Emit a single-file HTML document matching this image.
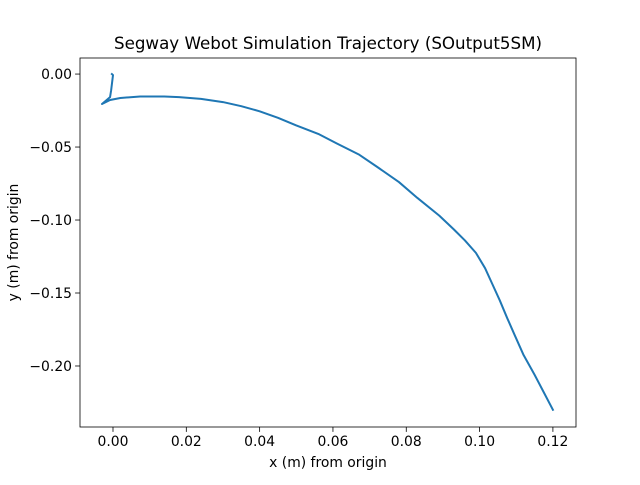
<!DOCTYPE html>
<html><head><meta charset="utf-8"><style>
body{margin:0;background:#fff}
svg text{font-family:"DejaVu Sans","Liberation Sans",sans-serif;fill:#000}
</style></head><body>
<svg id="chart" width="640" height="480" xmlns="http://www.w3.org/2000/svg"></svg>
<script>
const xs=[-0.0003,0.0,-0.0005,-0.0008,-0.003,-0.0008,0.002,0.0074,0.014,0.018,0.024,0.030,0.035,0.040,0.045,0.050,0.056,0.061,0.067,0.072,0.078,0.083,0.089,0.093,0.096,0.099,0.1015,0.1035,0.1055,0.1075,0.1096,0.112,0.115,0.1175,0.12];
const ys=[0,-0.0007,-0.011,-0.0158,-0.0205,-0.0178,-0.0164,-0.0154,-0.0154,-0.0158,-0.017,-0.0192,-0.022,-0.0255,-0.030,-0.0352,-0.041,-0.0475,-0.055,-0.0635,-0.074,-0.0848,-0.097,-0.1065,-0.114,-0.1225,-0.133,-0.144,-0.155,-0.167,-0.179,-0.1925,-0.206,-0.218,-0.230];
const xTicks=[0.00,0.02,0.04,0.06,0.08,0.10,0.12];
const yTicks=[0.00,-0.05,-0.10,-0.15,-0.20];
const L=80,R=576,T=58,B=427;
const xMin=-0.009,xMax=0.1263,yMin=-0.2418,yMax=0.011;
const sx=v=>L+(v-xMin)/(xMax-xMin)*(R-L);
const sy=v=>B-(v-yMin)/(yMax-yMin)*(B-T);
const svg=document.getElementById('chart');
const NS='http://www.w3.org/2000/svg';
function mk(t,a,txt){const e=document.createElementNS(NS,t);for(const k in a)e.setAttribute(k,a[k]);if(txt!=null)e.textContent=txt;svg.appendChild(e);return e;}
let e=mk('rect',{x:L,y:T,width:R-L,height:B-T,fill:'none',stroke:'#000','stroke-width':0.8});


xTicks.forEach(v=>{const x=sx(v);
 let t=mk('line',{x1:x,x2:x,y1:B,y2:B+4.9,stroke:'#000','stroke-width':0.8});
 
 
 let l=mk('text',{x:x,y:B+19,'text-anchor':'middle','font-size':13.9},v.toFixed(2));
 
 });
yTicks.forEach(v=>{const y=sy(v);
 let t=mk('line',{x1:L-4.9,x2:L,y1:y,y2:y,stroke:'#000','stroke-width':0.8});
 
 
 let l=mk('text',{x:L-8,y:y+5,'text-anchor':'end','font-size':13.9},(v<0?'\u2212':'')+Math.abs(v).toFixed(2));
 
 });
let p=mk('polyline',{points:xs.map((v,i)=>sx(v)+','+sy(ys[i])).join(' '),fill:'none',stroke:'#1f77b4','stroke-width':2,'stroke-linejoin':'round','stroke-linecap':'square'});


let ti=mk('text',{x:(L+R)/2,y:49,'text-anchor':'middle','font-size':16.7},'Segway Webot Simulation Trajectory (SOutput5SM)');


let xl=mk('text',{x:(L+R)/2,y:467,'text-anchor':'middle','font-size':13.9},'x (m) from origin');


let yl=mk('text',{x:0,y:0,'text-anchor':'middle','font-size':13.9,transform:'translate(18,'+((T+B)/2)+') rotate(-90)'},'y (m) from origin');


</script>
</body></html>
